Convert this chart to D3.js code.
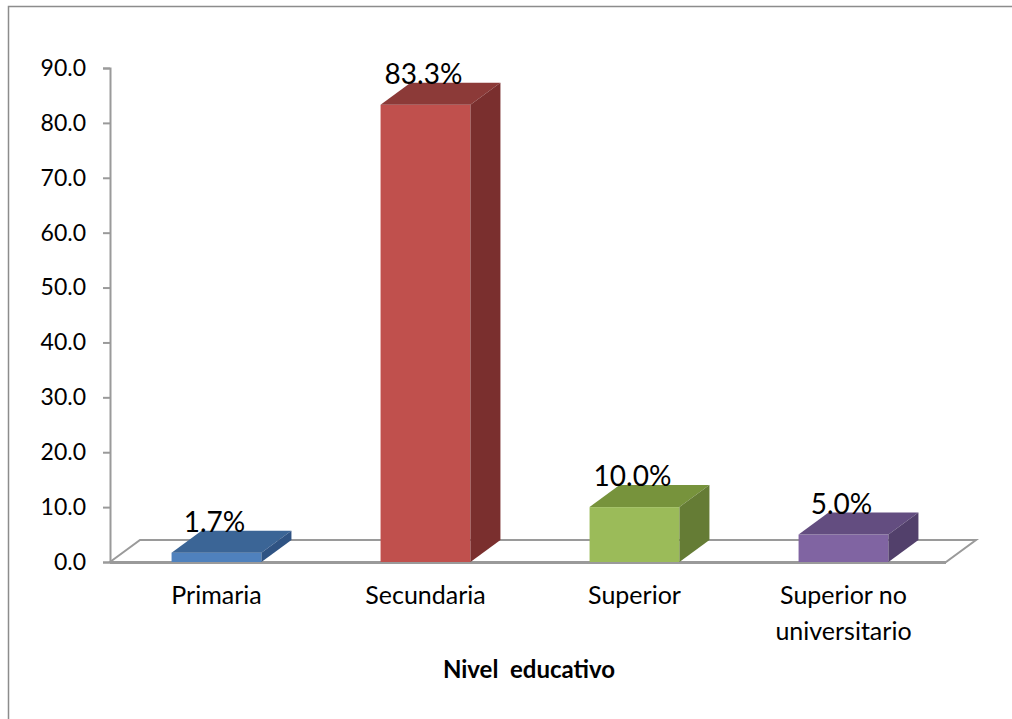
<!DOCTYPE html>
<html>
<head>
<meta charset="utf-8">
<script src="https://cdn.jsdelivr.net/npm/d3@7"></script>
<style>
  html, body { margin: 0; padding: 0; background: #fff; }
  svg { display: block; }
  text { font-family: Lato, "Open Sans", sans-serif; fill: #000; }
</style>
</head>
<body>
<svg id="chart" width="1012" height="719"></svg>
<script>
// Nivel educativo: porcentaje por categoría
const categories = ["Primaria", "Secundaria", "Superior", "Superior no universitario"];
const values = [1.7, 83.3, 10.0, 5.0];
const valueLabels = ["1.7%", "83.3%", "10.0%", "5.0%"];
const categoryLines = [["Primaria"], ["Secundaria"], ["Superior"], ["Superior no", "universitario"]];
const yTicks = [0, 10, 20, 30, 40, 50, 60, 70, 80, 90];
const axisTitle = "Nivel  educativo";

// colour sets: front face, top face, side face
const frontColors = ["#4F81BD", "#C0504D", "#9BBB59", "#8064A2"];
const topColors   = ["#3B6596", "#8C3A38", "#77933C", "#634D80"];
const sideColors  = ["#2F5383", "#7A2F2E", "#657C35", "#52406B"];

const svg = d3.select("#chart");

// outer chart border
svg.append("rect")
  .attr("x", 8.5).attr("y", 6.5)
  .attr("width", 1020).attr("height", 730)
  .attr("fill", "none").attr("stroke", "#8c8c8c").attr("stroke-width", 1.5);

const x0 = 110, x1 = 946;
const depthX = 30, depthY = 22;

const y = d3.scaleLinear().domain([0, 90]).range([562, 68]);
const x = d3.scaleBand().domain(categories)
  .range([x0 + 2, x1 + 2])
  .paddingInner(0.57).paddingOuter(0.285);

const grey = "#9a9a9a";

// floor parallelogram
const base = y(0);
svg.append("path")
  .attr("d", `M${x0},${base} L${x0 + depthX},${base - depthY} L${x1 + depthX},${base - depthY} L${x1},${base} Z`)
  .attr("fill", "#fff").attr("stroke", grey).attr("stroke-width", 2)
  .attr("stroke-linejoin", "miter");

// y axis
const yAxis = d3.axisLeft(y).tickValues(yTicks).tickFormat(d3.format(".1f"))
  .tickSize(7).tickPadding(17);
const gy = svg.append("g").attr("transform", `translate(${x0},0)`).call(yAxis);
gy.select(".domain").attr("stroke", grey).attr("stroke-width", 2);
gy.selectAll(".tick line").attr("stroke", grey).attr("stroke-width", 2);
gy.selectAll(".tick text")
  .attr("font-family", "Lato, sans-serif").attr("font-size", 23).attr("fill", "#000");

// 3D bars
const data = categories.map((c, i) => ({ c, v: values[i], i }));
const bars = svg.append("g").selectAll("g").data(data).join("g");

bars.append("rect")
  .attr("x", d => x(d.c))
  .attr("y", d => y(d.v))
  .attr("width", x.bandwidth())
  .attr("height", d => base - y(d.v))
  .attr("fill", d => frontColors[d.i]);

bars.append("path")
  .attr("d", d => {
    const l = x(d.c), r = l + x.bandwidth(), t = y(d.v);
    return `M${l},${t} L${l + depthX},${t - depthY} L${r + depthX},${t - depthY} L${r},${t} Z`;
  })
  .attr("fill", d => topColors[d.i]);

bars.append("path")
  .attr("d", d => {
    const r = x(d.c) + x.bandwidth(), t = y(d.v);
    return `M${r},${t} L${r + depthX},${t - depthY} L${r + depthX},${base - depthY} L${r},${base} Z`;
  })
  .attr("fill", d => sideColors[d.i]);

// front floor edge over the bar bases
svg.append("line")
  .attr("x1", x0).attr("x2", x1).attr("y1", base + 1).attr("y2", base + 1)
  .attr("stroke", grey).attr("stroke-width", 2);

// value labels
bars.append("text")
  .attr("x", d => x(d.c) + x.bandwidth() / 2 - 2)
  .attr("y", d => y(d.v) - depthY + 1)
  .attr("text-anchor", "middle")
  .attr("font-size", 28)
  .text(d => valueLabels[d.i]);

// category labels
const catG = svg.append("g").selectAll("text").data(data).join("text")
  .attr("x", d => x(d.c) + x.bandwidth() / 2)
  .attr("y", 604)
  .attr("text-anchor", "middle")
  .attr("font-size", 25);
catG.selectAll("tspan").data(d => categoryLines[d.i]).join("tspan")
  .attr("x", function () { return d3.select(this.parentNode).attr("x"); })
  .attr("dy", (d, j) => j === 0 ? 0 : 36)
  .text(d => d);

// axis title
svg.append("text")
  .attr("x", (x0 + x1) / 2 + 1)
  .attr("y", 678)
  .attr("text-anchor", "middle")
  .attr("font-size", 24)
  .attr("font-weight", "bold")
  .attr("xml:space", "preserve")
  .style("white-space", "pre")
  .text(axisTitle);
</script>
</body>
</html>
